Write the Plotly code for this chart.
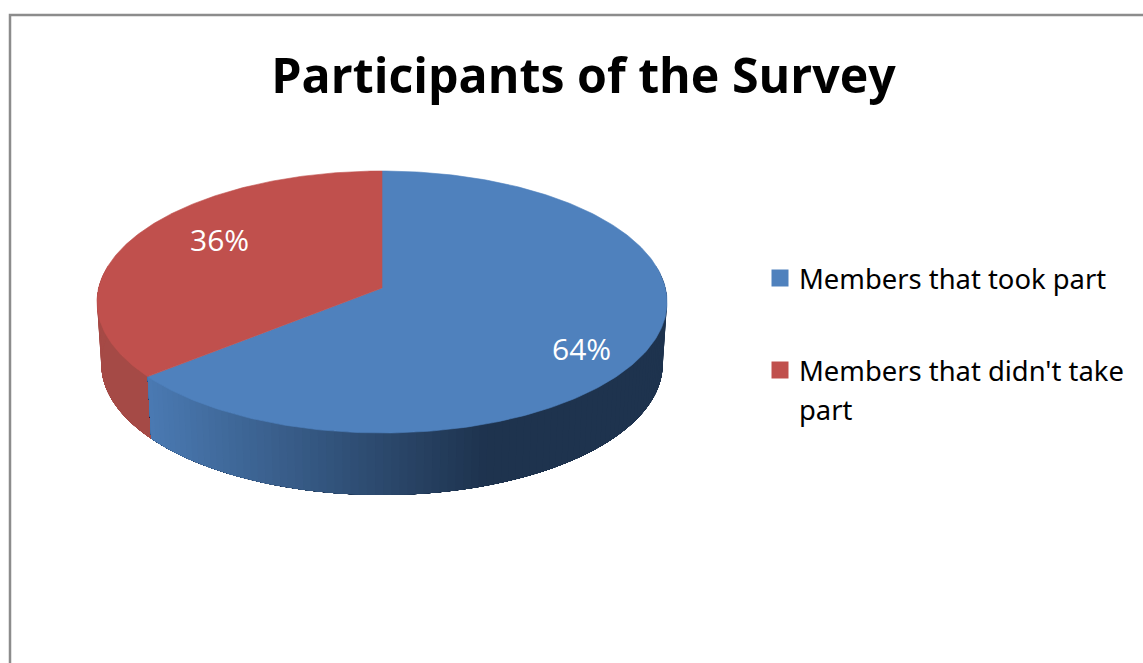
import numpy as np
import plotly.graph_objects as go

# Survey shares and labels
categories = ["Members that took part", "Members that didn't take<br>part"]
shares = [64, 36]
top_colors = ["#4F81BD", "#C0504D"]
chart_title = "Participants of the Survey"

# Pixel-space layout of the tilted disc
CX, CY = 382.0, 288.0
A, B, K = 283.4, 129.5, 0.1069
DEPTH = 62.0
RIM_SCALE = 0.985

# Pixel-space layout of the key
KEY_X, KEY_TEXT_X = 780, 797
KEY_ROWS = [278, 370]
KEY_LINE_STEP = 39


def project(angle, radius=1.0):
    """Map a clockwise-from-north angle on the disc to the tilted view."""
    u = radius * np.sin(angle)
    v = radius * np.cos(angle)
    w = 1 + K * v
    return CX + A * u / w, CY - B * v / w


def lower(x, y):
    """Drop a point on the top face to the matching point on the lower rim."""
    return CX + (x - CX) * RIM_SCALE, y + DEPTH


def mix(c0, c1, t):
    t = min(max(t, 0.0), 1.0)
    return "rgb({},{},{})".format(*[round(a + (b - a) * t) for a, b in zip(c0, c1)])


def side_color(index, x):
    # The rim darkens from left to right
    if index == 0:
        return mix((75, 123, 180), (30, 51, 78), (x - 145) / 345)
    return mix((166, 74, 70), (160, 71, 67), (x - 100) / 45)


fig = go.Figure()

# Wedge boundaries in radians, clockwise from north
edges = np.radians(np.concatenate([[0], np.cumsum(shares)]) * 3.6)

# Rim: bands along the front of each wedge, each one running on under the next
# band so that no seams show between them.
for i in reversed(range(len(shares))):
    lo, hi = max(edges[i], np.radians(80)), min(edges[i + 1], np.radians(280))
    steps = np.linspace(lo, hi, int((hi - lo) / np.radians(1.5)) + 2)
    for a0 in steps[:-1]:
        arc = np.linspace(a0, hi, 60) if i == 0 else np.linspace(lo, a0 + np.radians(1.5), 60)
        xs, ys = project(arc)
        xl, yl = lower(xs, ys)
        color = side_color(i, float(project(a0)[0]))
        fig.add_trace(go.Scatter(
            x=np.r_[xs, xl[::-1], xs[0]],
            y=np.r_[ys, yl[::-1], ys[0]],
            mode="lines", fill="toself", fillcolor=color,
            line=dict(width=0),
            hoverinfo="skip", showlegend=False,
        ))

# Top face of each wedge
for i, name in enumerate(categories):
    arc = np.linspace(edges[i], edges[i + 1], 240)
    xs, ys = project(arc)
    fig.add_trace(go.Scatter(
        x=np.r_[CX, xs, CX], y=np.r_[CY, ys, CY],
        mode="lines", fill="toself", fillcolor=top_colors[i],
        line=dict(color=top_colors[i], width=0.6),
        hoverinfo="skip", showlegend=False,
    ))

# Key swatches
fig.add_trace(go.Scatter(
    x=[KEY_X] * len(categories), y=KEY_ROWS, mode="markers",
    marker=dict(symbol="square", size=17, color=top_colors, line=dict(width=0)),
    hoverinfo="skip", showlegend=False,
))

# Percentages on the wedges
label_positions = [(581, 348), (219, 239)]
annotations = [
    dict(x=x, y=y, xref="x", yref="y", text=f"{v}%", showarrow=False,
         font=dict(family="Open Sans", size=30, color="white"))
    for v, (x, y) in zip(shares, label_positions)
]

# Key text, one annotation per line so the line step stays exact
for name, row in zip(categories, KEY_ROWS):
    for n, line in enumerate(name.split("<br>")):
        annotations.append(dict(
            x=KEY_TEXT_X, y=row + n * KEY_LINE_STEP, xref="x", yref="y",
            text=line, showarrow=False, xanchor="left", yanchor="middle",
            font=dict(family="Noto Sans", size=27.4, color="black"),
        ))

# Chart frame running off the right and bottom of the page
frame = dict(type="path", path="M 10 663 L 10 15 L 1143 15", xref="x", yref="y",
             line=dict(color="#8C8C8C", width=2.5))

fig.update_layout(
    width=1143, height=663, margin=dict(l=0, r=0, t=0, b=0),
    paper_bgcolor="white", plot_bgcolor="white", showlegend=False,
    xaxis=dict(range=[0, 1143], visible=False, fixedrange=True),
    yaxis=dict(range=[663, 0], visible=False, fixedrange=True),
    title=dict(text=f"<b>{chart_title}</b>", x=583.5 / 1143, xanchor="center",
               y=1 - 76 / 663, yanchor="middle",
               font=dict(family="Open Sans", size=48.3, color="black")),
    annotations=annotations, shapes=[frame],
)

fig.write_html("out.html")
